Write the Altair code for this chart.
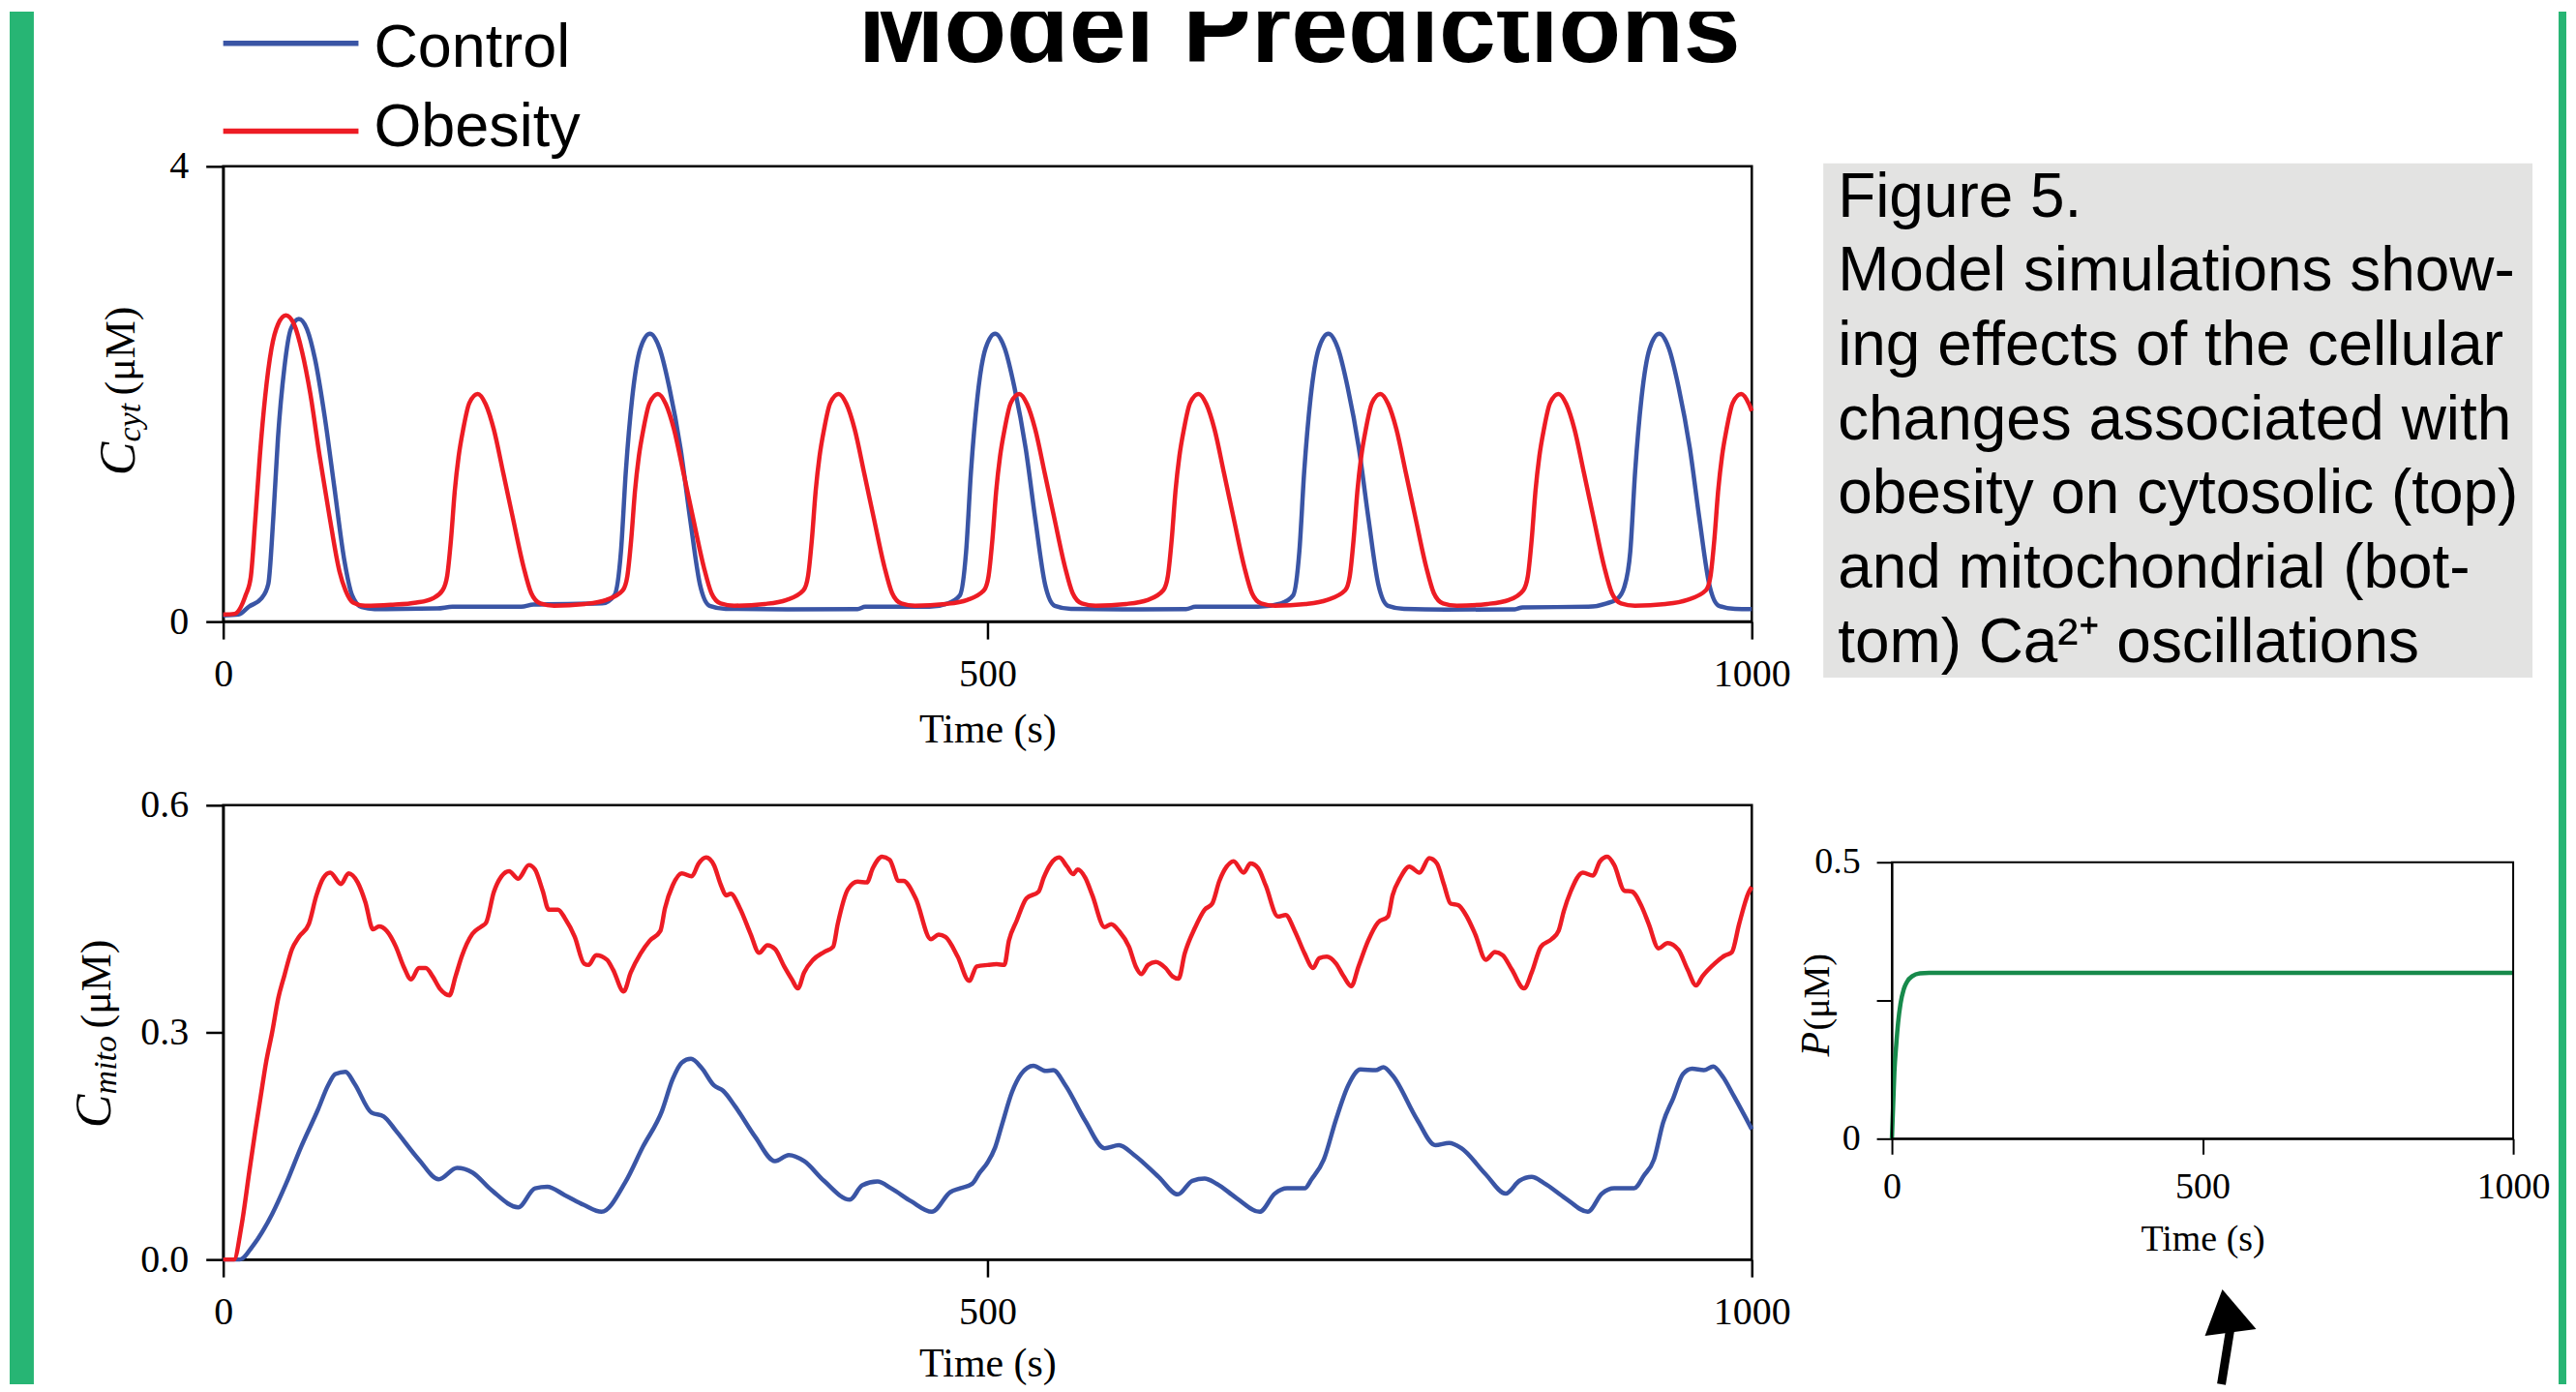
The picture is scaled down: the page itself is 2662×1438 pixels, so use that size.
import altair as alt
import pandas as pd

# ---------------------------------------------------------------- data
TIME_TICKS = [0, 500, 1000]
CYT_TICKS = [0, 4]
MITO_TICKS = [0.0, 0.3, 0.6]
P_TICKS = [0, 0.25, 0.5]
SERIES = ["Control", "Obesity"]
TITLE = "Model Predictions"
CAPTION = [
    "Figure 5.",
    "Model simulations show-",
    "ing effects of the cellular",
    "changes associated with",
    "obesity on cytosolic (top)",
    "and mitochondrial (bot-",
    "tom) Ca\u00b2\u207a oscillations",
]

# cytosolic Ca2+ (time s, concentration uM)
CYT_CONTROL = [
    (0, 0.054), (10, 0.062), (17, 0.133), (25, 0.204), (29.5, 0.331), (32.7, 0.897),
    (35.8, 1.61), (40, 2.23), (44.2, 2.57), (49.5, 2.66), (54.8, 2.57), (60, 2.31),
    (66.4, 1.80), (72.7, 1.18), (79, 0.558), (84.3, 0.232), (90.6, 0.127), (99, 0.11),
    (140, 0.115), (150, 0.13), (195, 0.13), (203, 0.15), (248, 0.16),
    (256, 0.232), (260.2, 0.614), (263.4, 1.32), (267.6, 1.97), (272.9, 2.40), (279.2, 2.53),
    (285.5, 2.40), (291.8, 2.06), (299.2, 1.52), (305.5, 0.897), (311.8, 0.331), (318.2, 0.139),
    (328.7, 0.112), (370, 0.108), (415, 0.11), (420, 0.13), (462, 0.13), (474, 0.16),
    (482, 0.232), (486, 0.614), (489.2, 1.32), (493.4, 1.97), (498.7, 2.40), (505, 2.53),
    (511.3, 2.40), (517.6, 2.06), (525, 1.52), (531.3, 0.897), (537.6, 0.331), (544, 0.139),
    (554.5, 0.112), (600, 0.108), (630, 0.11), (636, 0.13), (677, 0.13), (692, 0.16),
    (700, 0.232), (704, 0.614), (707.2, 1.32), (711.4, 1.97), (716.7, 2.40), (723, 2.53),
    (729.3, 2.40), (735.6, 2.06), (743, 1.52), (749.3, 0.897), (755.6, 0.331), (762, 0.139),
    (772.5, 0.112), (800, 0.105), (845, 0.108), (850, 0.125), (893, 0.13), (905, 0.16),
    (912, 0.2), (916.5, 0.3), (920.5, 0.614), (923.7, 1.32), (927.9, 1.97), (933.2, 2.40),
    (939.5, 2.53), (945.8, 2.40), (952.1, 2.06), (959.5, 1.52), (965.8, 0.897), (972.1, 0.331),
    (978.5, 0.139), (989, 0.112), (1000, 0.11),
]
CYT_OBESITY = [
    (0, 0.062), (7.4, 0.068), (14.7, 0.232), (18, 0.388), (21, 0.897), (24, 1.46),
    (27.4, 1.97), (31.6, 2.40), (35.8, 2.61), (41, 2.69), (46.4, 2.61), (51.6, 2.37),
    (57, 2.0), (63, 1.46), (69.5, 0.926), (76, 0.444), (80, 0.275), (85, 0.167),
    (92.7, 0.139), (109.6, 0.147), (126.4, 0.167), (137, 0.204),
    (143.5, 0.275), (146.5, 0.40), (149, 0.72), (151.5, 1.15), (154, 1.45), (157, 1.69),
    (161, 1.92), (166.5, 2.0), (171.7, 1.91), (177, 1.69), (183.3, 1.30), (189.5, 0.91),
    (196.5, 0.48), (201.5, 0.25), (207.5, 0.16), (216.5, 0.14), (236.5, 0.155), (250.5, 0.19),
    (261.4, 0.275), (264.4, 0.40), (266.9, 0.72), (269.4, 1.15), (271.9, 1.45), (274.9, 1.69),
    (278.9, 1.92), (284.4, 2.0), (289.6, 1.91), (294.9, 1.69), (301.2, 1.30), (307.4, 0.91),
    (314.4, 0.48), (319.4, 0.25), (325.4, 0.16), (334.4, 0.14), (354.4, 0.155), (368.4, 0.19),
    (379.6, 0.275), (382.6, 0.40), (385.1, 0.72), (387.6, 1.15), (390.1, 1.45), (393.1, 1.69),
    (397.1, 1.92), (402.6, 2.0), (407.8, 1.91), (413.1, 1.69), (419.4, 1.30), (425.6, 0.91),
    (432.6, 0.48), (437.6, 0.25), (443.6, 0.16), (452.6, 0.14), (472.6, 0.155), (486.6, 0.19),
    (497.7, 0.275), (500.7, 0.40), (503.2, 0.72), (505.7, 1.15), (508.2, 1.45), (511.2, 1.69),
    (515.2, 1.92), (520.7, 2.0), (525.9, 1.91), (531.2, 1.69), (537.5, 1.30), (543.7, 0.91),
    (550.7, 0.48), (555.7, 0.25), (561.7, 0.16), (570.7, 0.14), (590.7, 0.155), (604.7, 0.19),
    (615, 0.275), (618, 0.40), (620.5, 0.72), (623, 1.15), (625.5, 1.45), (628.5, 1.69),
    (632.5, 1.92), (638, 2.0), (643.2, 1.91), (648.5, 1.69), (654.8, 1.30), (661, 0.91),
    (668, 0.48), (673, 0.25), (679, 0.16), (688, 0.14), (708, 0.155), (722, 0.19),
    (734, 0.275), (737, 0.40), (739.5, 0.72), (742, 1.15), (744.5, 1.45), (747.5, 1.69),
    (751.5, 1.92), (757, 2.0), (762.2, 1.91), (767.5, 1.69), (773.8, 1.30), (780, 0.91),
    (787, 0.48), (792, 0.25), (798, 0.16), (807, 0.14), (827, 0.155), (841, 0.19),
    (850.5, 0.275), (853.5, 0.40), (856, 0.72), (858.5, 1.15), (861, 1.45), (864, 1.69),
    (868, 1.92), (873.5, 2.0), (878.7, 1.91), (884, 1.69), (890.3, 1.30), (896.5, 0.91),
    (903.5, 0.48), (908.5, 0.25), (914.5, 0.16), (923.5, 0.14), (943.5, 0.155), (957.5, 0.19),
    (970, 0.275), (973, 0.40), (975.5, 0.72), (978, 1.15), (980.5, 1.45), (983.5, 1.69),
    (987.5, 1.92), (993, 2.0), (998.2, 1.91), (1000, 1.85),
]

# mitochondrial Ca2+ (time s, concentration uM)
MITO_CONTROL = [
    (0, 0), (11, 0), (19, 0.017), (32, 0.06), (41.5, 0.102), (51, 0.149), (62, 0.198),
    (68.6, 0.23), (73.4, 0.245), (80, 0.248), (86, 0.232), (97, 0.194), (105, 0.189),
    (113, 0.17), (128, 0.132), (141, 0.106), (153, 0.121), (163, 0.115), (175.6, 0.0915),
    (193, 0.069), (204, 0.094), (212, 0.096), (223.5, 0.085), (236, 0.072), (247.5, 0.063),
    (263, 0.102), (274.6, 0.149), (287, 0.196), (294, 0.238), (300, 0.26), (306, 0.265),
    (313, 0.253), (321, 0.23), (327, 0.223), (335, 0.202), (348, 0.162), (361, 0.13),
    (370, 0.138), (380, 0.13), (393, 0.104), (410, 0.079), (418, 0.098), (428, 0.103),
    (437, 0.094), (450, 0.077), (463.6, 0.063), (475.7, 0.089), (482, 0.094), (490, 0.1),
    (495, 0.115), (500, 0.128), (505, 0.148), (509.6, 0.179), (516, 0.221), (522, 0.245),
    (530, 0.256), (538, 0.249), (543, 0.25), (551, 0.23), (564, 0.183), (576.6, 0.147),
    (586, 0.151), (596, 0.138), (612, 0.109), (624.5, 0.086), (634, 0.104), (642, 0.107),
    (650, 0.1), (663, 0.081), (678, 0.063), (688, 0.087), (696, 0.094), (707.5, 0.094),
    (712, 0.106), (720, 0.132), (728, 0.185), (736, 0.23), (744, 0.251), (754, 0.25),
    (759, 0.254), (765, 0.243), (781, 0.185), (793, 0.151), (802, 0.154), (810, 0.147),
    (825.7, 0.113), (839, 0.087), (848, 0.104), (856, 0.109), (864, 0.101), (878, 0.081),
    (892.7, 0.063), (902, 0.087), (910, 0.094), (923, 0.094), (929.5, 0.111), (936, 0.132),
    (942, 0.181), (948.6, 0.213), (955, 0.245), (961, 0.252), (968.7, 0.25), (974.8, 0.255),
    (980.5, 0.243), (988.5, 0.215), (1000, 0.172),
]
MITO_OBESITY = [
    (0, 0), (7, 0), (12, 0.045), (17, 0.115), (21, 0.17), (24.5, 0.215), (28, 0.26),
    (32, 0.30), (36, 0.345), (40, 0.375), (45, 0.41), (49.5, 0.426), (56, 0.443), (61, 0.481),
    (65.5, 0.504), (70, 0.511), (77, 0.496), (82, 0.510), (88, 0.498), (93, 0.472), (98, 0.436),
    (102, 0.44), (107, 0.434), (113, 0.413), (118, 0.387), (123, 0.370), (128, 0.385),
    (132.5, 0.385), (137, 0.374), (142, 0.357), (148, 0.349), (152, 0.374), (156, 0.40),
    (163, 0.43), (169, 0.44), (172, 0.445), (177, 0.485), (182, 0.506), (187, 0.513),
    (193, 0.503), (200, 0.521), (204, 0.515), (209, 0.487), (213, 0.462), (219, 0.462),
    (223.5, 0.451), (230, 0.426), (236, 0.391), (239, 0.389), (244, 0.402), (251, 0.396),
    (255, 0.383), (262, 0.354), (266.6, 0.379), (273, 0.404), (279, 0.421), (286, 0.434),
    (289, 0.464), (294, 0.494), (300, 0.51), (306.5, 0.506), (311, 0.523), (316, 0.531),
    (321, 0.521), (325.7, 0.494), (329, 0.481), (332, 0.483), (338, 0.464), (345, 0.43),
    (350.6, 0.405), (356, 0.415), (361, 0.41), (367, 0.387), (372, 0.370), (376, 0.358),
    (380, 0.379), (386, 0.396), (393, 0.406), (399, 0.413), (402, 0.443), (408.7, 0.489),
    (415, 0.499), (421, 0.498), (425, 0.517), (431, 0.532), (436, 0.528), (442, 0.5),
    (445, 0.5), (453, 0.477), (463, 0.423), (468, 0.429), (472.5, 0.426), (480.5, 0.40),
    (488, 0.368), (493, 0.387), (500, 0.389), (506, 0.39), (511, 0.389), (514, 0.421),
    (519, 0.447), (525.5, 0.477), (533.5, 0.486), (536.7, 0.504), (541.5, 0.523), (547, 0.531),
    (552, 0.519), (556, 0.509), (559, 0.515), (564, 0.504), (568.6, 0.481), (576.6, 0.439),
    (581, 0.443), (586, 0.434), (592.6, 0.413), (597, 0.387), (600.6, 0.377), (605, 0.389),
    (610, 0.393), (616.5, 0.385), (621, 0.374), (625, 0.371), (629, 0.404), (635.7, 0.438),
    (642, 0.462), (647, 0.47), (651.7, 0.5), (656.5, 0.519), (661, 0.526), (667.6, 0.511),
    (672, 0.523), (677, 0.517), (682, 0.494), (690, 0.453), (695, 0.455), (701, 0.434),
    (707.5, 0.404), (713, 0.385), (717, 0.398), (722, 0.40), (728, 0.391), (733, 0.374),
    (738, 0.361), (742.7, 0.387), (749, 0.421), (755.4, 0.445), (762, 0.453), (765, 0.481),
    (770, 0.504), (776, 0.519), (782.6, 0.511), (789, 0.53), (794, 0.523), (798.5, 0.496),
    (803, 0.47), (808, 0.468), (813, 0.455), (819, 0.43), (826, 0.396), (832, 0.406),
    (837, 0.402), (843, 0.383), (851, 0.358), (856, 0.379), (862, 0.413), (869, 0.423),
    (873.6, 0.434), (877, 0.46), (881.5, 0.486), (889.5, 0.511), (896, 0.507), (900.7, 0.526),
    (905.5, 0.532), (910, 0.521), (916.7, 0.487), (921.5, 0.486), (928, 0.466), (932.6, 0.443),
    (939, 0.411), (945, 0.418), (952, 0.409), (958, 0.383), (963.6, 0.362), (967.7, 0.374),
    (975.7, 0.391), (982, 0.401), (987, 0.406), (991.7, 0.443), (998, 0.485), (1000, 0.492),
]

# P (uM) in the small panel
P_CURVE = [
    (0, 0), (2, 0.06), (4, 0.12), (7, 0.17), (10, 0.21), (14, 0.245), (19, 0.27),
    (25, 0.285), (33, 0.294), (45, 0.299), (60, 0.30), (1000, 0.30),
]

# ---------------------------------------------------------------- style
BLUE = "#3a55a5"
RED = "#ed1c24"
GREEN_LINE = "#178a4b"
GREEN_BAR = "#27b574"
BOX_GRAY = "#e3e3e2"
SERIF = "Liberation Serif"
SANS = "Liberation Sans"
ONE = pd.DataFrame({"k": [0]})
HIDDEN = alt.ViewBackground(stroke="transparent")


def frame(pairs):
    return pd.DataFrame(pairs, columns=["t", "v"])


def x_axis(lsize, tsize, tick, lpad, tpad, width):
    return alt.Axis(values=TIME_TICKS, format="d", title="Time (s)", grid=False,
                    labelFont=SERIF, labelFontSize=lsize, labelColor="black",
                    labelPadding=lpad, labelFlush=False, labelOverlap=False,
                    titleFont=SERIF, titleFontSize=tsize, titleFontWeight="normal",
                    titleColor="black", titlePadding=tpad,
                    tickSize=tick, tickWidth=width, tickColor="black",
                    domainWidth=width, domainColor="black")


def y_axis(values, lsize, tick, lpad, width, fmt=None, expr=None):
    kw = dict(values=values, title="", grid=False, labelFont=SERIF, labelFontSize=lsize,
              labelColor="black", labelPadding=lpad, labelOverlap=False,
              tickSize=tick, tickWidth=width, tickColor="black",
              domainWidth=width, domainColor="black")
    if fmt is not None:
        kw["format"] = fmt
    if expr is not None:
        kw["labelExpr"] = expr
    return alt.Axis(**kw)


def line(pairs, color, xs, ys, width=4.5):
    return alt.Chart(frame(pairs)).mark_line(
        color=color, strokeWidth=width, interpolate="monotone", strokeJoin="round"
    ).encode(x=xs, y=ys)


def label(text, x, y, size, font=SERIF, style="normal", weight="normal", angle=0,
          align="left", baseline="alphabetic", clip=False, **extra):
    return alt.Chart(ONE).mark_text(
        text=text, font=font, fontSize=size, fontStyle=style, fontWeight=weight,
        angle=angle, align=align, baseline=baseline, color="black", clip=clip, **extra
    ).encode(x=alt.value(x), y=alt.value(y))


def block(x1, x2, y1, y2, color):
    return alt.Chart(ONE).mark_rect(color=color).encode(
        x=alt.value(x1), x2=alt.value(x2), y=alt.value(y1), y2=alt.value(y2))


def filler(w=1, h=1):
    return alt.Chart(ONE).mark_point(opacity=0).properties(width=w, height=h, view=HIDDEN)


# ---------------------------------------------------------------- header / decorations
ARROW_HEAD = "M-0.19,-0.99L-0.79,0.61L0.977,0.377Z"
header = alt.layer(
    block(-221, -196, 0, 1420, GREEN_BAR),
    block(2417, 2425, 0, 1420, GREEN_BAR),
    block(1656, 2390, 157, 689, BOX_GRAY),
    label(TITLE, 1114, 52, 106, font=SANS, weight="bold", align="center", clip=True),
    alt.Chart(ONE).mark_rule(color=BLUE, strokeWidth=5.5).encode(
        x=alt.value(0), x2=alt.value(140), y=alt.value(32.7)),
    alt.Chart(ONE).mark_rule(color=RED, strokeWidth=5.5).encode(
        x=alt.value(0), x2=alt.value(140), y=alt.value(123.7)),
    label(SERIES[0], 156, 57, 63, font=SANS),
    label(SERIES[1], 156, 139, 63, font=SANS),
    label(CAPTION, 1671, 161, 64, font=SANS, baseline="top", lineHeight=76.8),
    alt.Chart(ONE).mark_rule(color="black", strokeWidth=9).encode(
        x=alt.value(2068), x2=alt.value(2077), y=alt.value(1420), y2=alt.value(1364)),
    alt.Chart(ONE).mark_point(shape=ARROW_HEAD, size=3600, filled=True, color="black",
                              opacity=1, strokeWidth=0).encode(
        x=alt.value(2074.7), y=alt.value(1351.7)),
).properties(width=1582, height=160, view=HIDDEN)

# ---------------------------------------------------------------- top panel
x_top = alt.X("t:Q", scale=alt.Scale(domain=[0, 1000], nice=False, zero=False),
              axis=x_axis(40, 42, 18, 16, 18, 2.5))
y_cyt = alt.Y("v:Q", scale=alt.Scale(domain=[0, 4], nice=False),
              axis=y_axis(CYT_TICKS, 40, 18, 18, 2.5, fmt="d"))
top = alt.layer(
    line(CYT_CONTROL, BLUE, x_top, y_cyt),
    line(CYT_OBESITY, RED, x_top, y_cyt),
    label("C", -92, 320, 52, style="italic", angle=270),
    label("cyt", -86, 285, 34, style="italic", angle=270),
    label("(\u03bcM)", -92, 237, 44, angle=270),
).properties(width=1582, height=471)

# ---------------------------------------------------------------- bottom panel
x_bot = alt.X("t:Q", scale=alt.Scale(domain=[0, 1000], nice=False, zero=False),
              axis=x_axis(40, 42, 18, 16, 14, 2.5))
y_mito = alt.Y("v:Q", scale=alt.Scale(domain=[0, 0.6], nice=False),
               axis=y_axis(MITO_TICKS, 40, 18, 18, 2.5, fmt=".1f"))
bottom = alt.layer(
    line(MITO_CONTROL, BLUE, x_bot, y_mito),
    line(MITO_OBESITY, RED, x_bot, y_mito),
    label("C", -117, 334, 52, style="italic", angle=270),
    label("mito", -111, 299, 34, style="italic", angle=270),
    label("(\u03bcM)", -117, 231, 44, angle=270),
).properties(width=1582, height=470)

# ---------------------------------------------------------------- small P panel
x_small = alt.X("t:Q", scale=alt.Scale(domain=[0, 1000], nice=False, zero=False),
                axis=x_axis(38, 38, 16, 15, 16, 2))
y_small = alt.Y("v:Q", scale=alt.Scale(domain=[0, 0.5], range=[345, 59], nice=False, zero=False),
                axis=y_axis(P_TICKS, 38, 16, 17, 2,
                            expr="datum.value == 0 ? '0' : (datum.value == 0.5 ? '0.5' : '')"))
small = alt.layer(
    line(P_CURVE, GREEN_LINE, x_small, y_small),
    alt.Chart(ONE).mark_rect(fillOpacity=0, stroke="black", strokeWidth=2).encode(
        x=alt.datum(0), x2=alt.datum(1000), y=alt.datum(0), y2=alt.datum(0.5)),
    label("P", -65, 260, 42, style="italic", angle=270),
    label("(\u03bcM)", -65, 233, 38, angle=270),
).properties(width=643, height=345, view=HIDDEN)

spacer = filler(1582, 190)

chart = alt.concat(
    header, filler(), top, filler(), spacer, filler(), bottom, small,
    columns=2, spacing={"row": 0, "column": 145}, bounds="flush", align="each",
).properties(padding=0, background="white").configure_view(stroke="black", strokeWidth=2.5)

chart.save("out.html", embed_options={"renderer": "svg", "actions": False})
